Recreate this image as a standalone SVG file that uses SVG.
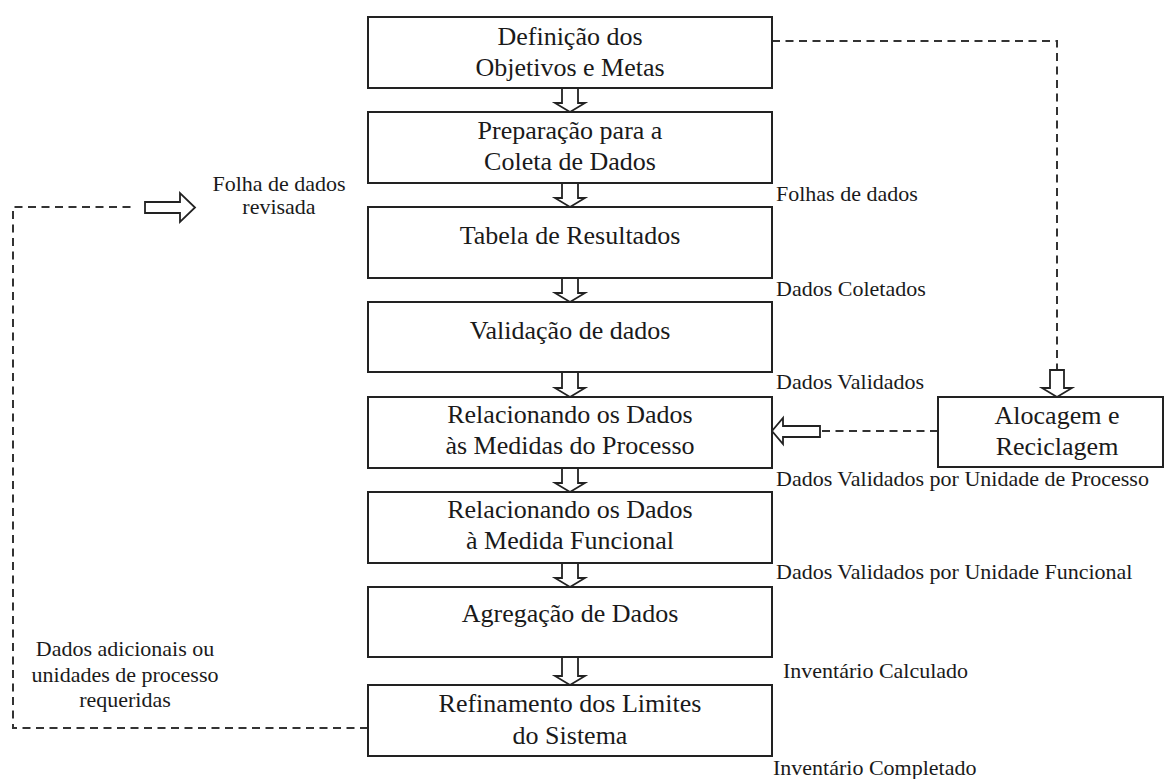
<svg xmlns="http://www.w3.org/2000/svg" width="1165" height="779" viewBox="0 0 1165 779">
<style>
.box{fill:#fff;stroke:#222;stroke-width:2}
.t{font-family:"Liberation Serif","Times New Roman",serif;font-size:26px;fill:#1a1a1a;text-anchor:middle}
.l{font-family:"Liberation Serif","Times New Roman",serif;font-size:22px;fill:#1a1a1a}
.lc{text-anchor:middle}
.dash{fill:none;stroke:#333;stroke-width:2;stroke-dasharray:8 5.5}
.arr{fill:#fff;stroke:#222;stroke-width:1.8;stroke-linejoin:miter}
</style>
<rect width="1165" height="779" fill="#fff"/>
<g id="connectors">
  <path class="dash" d="M772 41 H1057 V370"/>
  <path class="dash" d="M938 431 H820"/>
  <path class="dash" d="M368 728 H13 V207 H133"/>
  <path class="arr" d="M562 88 V103 H555 L570 112 L585 103 H578 V88 Z"/>
  <path class="arr" d="M562 183 V198 H555 L570 207 L585 198 H578 V183 Z"/>
  <path class="arr" d="M562 278 V293 H555 L570 302 L585 293 H578 V278 Z"/>
  <path class="arr" d="M562 372 V388 H555 L570 397 L585 388 H578 V372 Z"/>
  <path class="arr" d="M562 468 V483 H555 L570 492 L585 483 H578 V468 Z"/>
  <path class="arr" d="M562 563 V578 H555 L570 587 L585 578 H578 V563 Z"/>
  <path class="arr" d="M562 657 V676 H555 L570 685 L585 676 H578 V657 Z"/>
  <path class="arr" d="M1050 370 V388 H1042 L1057 397 L1072 388 H1064 V370 Z"/>
  <path class="arr" d="M820 426 H783 V418 L772 431 L783 444 V437 H820 Z"/>
  <path class="arr" d="M145 202 H180 V193 L195 207.5 L180 222 V213 H145 Z"/>
</g>
<g id="n1"><rect class="box" x="368" y="17" width="404" height="71"/><text class="t" x="570" y="45">Definição dos</text><text class="t" x="570" y="76">Objetivos e Metas</text></g>
<g id="n2"><rect class="box" x="368" y="112" width="404" height="71"/><text class="t" x="570" y="139">Preparação para a</text><text class="t" x="570" y="170">Coleta de Dados</text></g>
<g id="n3"><rect class="box" x="368" y="207" width="404" height="71"/><text class="t" x="570" y="244">Tabela de Resultados</text></g>
<g id="n4"><rect class="box" x="368" y="302" width="404" height="70"/><text class="t" x="570" y="339">Validação de dados</text></g>
<g id="n5"><rect class="box" x="368" y="397" width="404" height="71"/><text class="t" x="570" y="423">Relacionando os Dados</text><text class="t" x="570" y="454">às Medidas do Processo</text></g>
<g id="n6"><rect class="box" x="368" y="492" width="404" height="71"/><text class="t" x="570" y="518">Relacionando os Dados</text><text class="t" x="570" y="549">à Medida Funcional</text></g>
<g id="n7"><rect class="box" x="368" y="587" width="404" height="70"/><text class="t" x="570" y="622">Agregação de Dados</text></g>
<g id="n8"><rect class="box" x="368" y="685" width="404" height="71"/><text class="t" x="570" y="712">Refinamento dos Limites</text><text class="t" x="570" y="744">do Sistema</text></g>
<g id="n9"><rect class="box" x="938" y="397" width="225" height="70"/><text class="t" x="1057" y="424">Alocagem e</text><text class="t" x="1057" y="455">Reciclagem</text></g>
<g id="labels">
  <text class="l" x="776" y="201">Folhas de dados</text>
  <text class="l" x="776" y="296">Dados Coletados</text>
  <text class="l" x="776" y="389">Dados Validados</text>
  <text class="l" x="776" y="486">Dados Validados por Unidade de Processo</text>
  <text class="l" x="776" y="579">Dados Validados por Unidade Funcional</text>
  <text class="l" x="783" y="678">Inventário Calculado</text>
  <text class="l" x="773" y="775">Inventário Completado</text>
  <text class="l lc" x="279" y="191">Folha de dados</text>
  <text class="l lc" x="279" y="214">revisada</text>
  <text class="l lc" x="125" y="656">Dados adicionais ou</text>
  <text class="l lc" x="125" y="682">unidades de processo</text>
  <text class="l lc" x="125" y="707">requeridas</text>
</g>
</svg>
